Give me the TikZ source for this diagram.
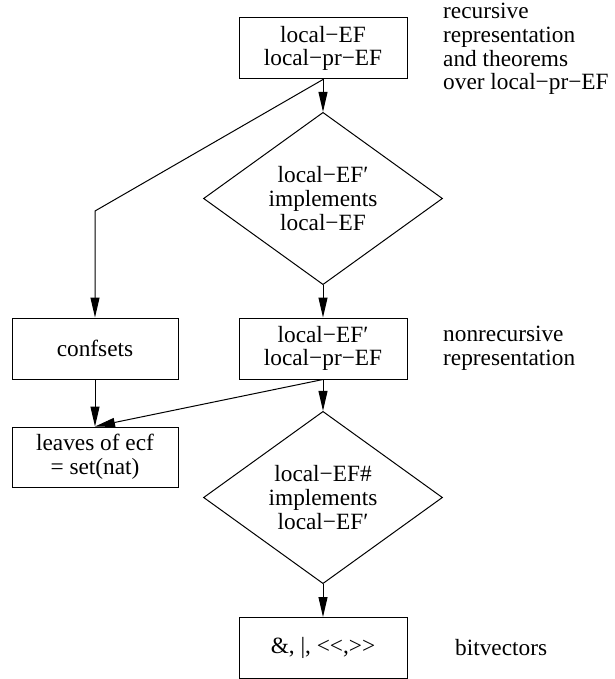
\documentclass[tikz,border=0pt]{standalone}
\usepackage{fontspec}
\setmainfont{Liberation Serif}
\usetikzlibrary{shapes.geometric,arrows.meta}
\begin{document}
\begin{tikzpicture}[x=1pt,y=-1pt,
  every node/.style={font=\fontsize{23.3}{23.6}\selectfont, align=center},
  box/.style={draw, line width=1pt, minimum width=168pt, minimum height=61pt, inner sep=0pt},
  test/.style={draw, diamond, line width=1pt, minimum width=239pt, minimum height=143pt, inner sep=0pt},
  note/.style={align=left, anchor=west, inner sep=0pt},
  flow/.style={line width=1pt, -{Triangle[length=20pt,width=9pt]}}]
\useasboundingbox (0,0) rectangle (614,679);
% main chain of representations
\node[box] (ef) at (323,48.5) {local−EF\\local−pr−EF};
\node[test] (impl1) at (323,198.5) {local−EF′\\implements\\local−EF};
\node[box] (efp) at (323,348.5) {local−EF′\\local−pr−EF};
\node[test] (impl2) at (323,497.5) {local−EF\#\\implements\\local−EF′};
% kerns keep the shift operators from turning into guillemets
\node[box] (bits) at (323,648) {\&, |, <\kern0pt<,>\kern0pt>};
% side branch
\node[box, minimum width=166pt] (conf) at (95,348.5) {confsets};
\node[box, minimum width=166pt, minimum height=60pt] (leaves) at (95,457) {leaves of ecf\\= set(nat)};
% annotations
\node[note] (recnote) at (443,49) {recursive\\representation\\and theorems\\over local−pr−EF};
\node[note] (nonrec) at (443,348) {nonrecursive\\representation};
\node[note] (bitnote) at (455,648) {bitvectors};
% connectors
\coordinate (bend) at (95,211);
\draw[flow] (ef.south) -- (impl1.north);
\draw[flow] (ef.south) -- (bend) -- (conf.north);
\draw[flow] (impl1.south) -- (efp.north);
\draw[flow] (conf.south) -- (leaves.north);
\draw[flow] (efp.south) -- (leaves.north);
\draw[flow] (efp.south) -- (impl2.north);
\draw[flow] (impl2.south) -- (bits.north);
\end{tikzpicture}
\end{document}
